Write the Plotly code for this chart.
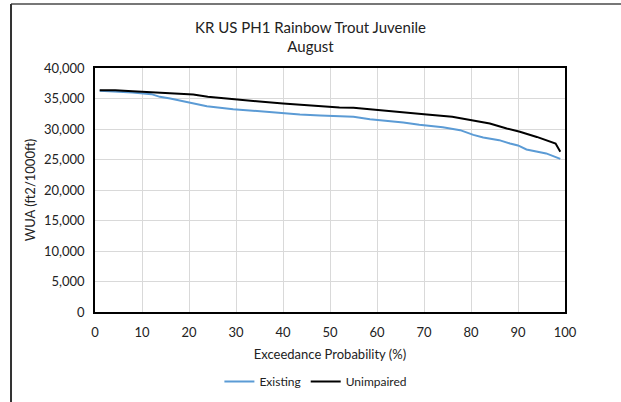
import plotly.graph_objects as go

# data
existing_x = [1, 4.6, 8, 12, 13.8, 16, 19.5, 23.8, 29.4, 35, 39.4, 43.6, 47.9, 51.4, 55,
              58.5, 62, 65.6, 69, 74, 77.7, 80.5, 82.6, 86, 88.3, 90, 91.8, 96, 99]
existing_y = [36260, 36150, 35980, 35710, 35270, 35000, 34400, 33740, 33250, 32870, 32650,
              32380, 32210, 32100, 32000, 31610, 31390, 31070, 30680, 30300, 29810, 29040,
              28610, 28170, 27620, 27300, 26640, 26000, 25110]

unimpaired_x = [1, 4.3, 8, 12.4, 16, 20.9, 24, 29.4, 31.6, 35, 40, 43.6, 46.5, 52, 55, 60,
                67, 70.6, 76, 79.8, 84, 87.6, 90.4, 94, 96, 98, 99]
unimpaired_y = [36366, 36366, 36200, 36040, 35930, 35650, 35270, 34840, 34780, 34500, 34180,
                33960, 33900, 33520, 33470, 33090, 32650, 32380, 32000, 31450, 30900, 30080,
                29540, 28700, 28170, 27620, 26260]

x_ticks = list(range(0, 101, 10))
y_ticks = list(range(0, 40001, 5000))

font = "Lato, 'Open Sans', sans-serif"

fig = go.Figure()
fig.add_trace(go.Scatter(x=existing_x, y=existing_y, name="Existing", mode="lines",
                         line=dict(color="#5b9bd5", width=2)))
fig.add_trace(go.Scatter(x=unimpaired_x, y=unimpaired_y, name="Unimpaired", mode="lines",
                         line=dict(color="black", width=2)))

fig.update_layout(
    width=621, height=402,
    margin=dict(l=95, r=56, t=68, b=90, autoexpand=False),
    paper_bgcolor="white", plot_bgcolor="white",
    font=dict(family=font, size=13, color="#222222"),
    title=dict(text="KR US PH1 Rainbow Trout Juvenile<br>August", x=0.5, xanchor="center",
               y=0.918, yanchor="top", font=dict(size=15), automargin=False),
    legend=dict(orientation="h", x=0.47, xanchor="center", y=-0.285, yanchor="middle",
                font=dict(size=12), itemwidth=30),
    showlegend=True,
)
fig.update_xaxes(range=[0, 100], tickvals=x_ticks, showgrid=True, gridcolor="#d9d9d9",
                 showline=True, linecolor="black", linewidth=1.5, mirror=True,
                 ticks="", zeroline=False, automargin=False, ticklabelstandoff=8,
                 title=dict(text="Exceedance Probability (%)", standoff=11, font=dict(size=13)))
fig.update_yaxes(range=[0, 40000], tickvals=y_ticks, tickformat=",", showgrid=True,
                 gridcolor="#d9d9d9", showline=True, linecolor="black", linewidth=1.5,
                 mirror=True, ticks="", zeroline=False, automargin=False, ticklabelstandoff=6,
                 title=dict(text="WUA (ft2/1000ft)", standoff=5, font=dict(size=13)))

# outer frame of the chart (clipped at right and bottom in the reference)
fig.add_shape(type="line", xref="paper", yref="paper", x0=-0.1787, y0=1.2623, x1=1.2, y1=1.2623,
              line=dict(color="#777777", width=2), layer="above")
fig.add_shape(type="line", xref="paper", yref="paper", x0=-0.1787, y0=1.2623, x1=-0.1787, y1=-0.4,
              line=dict(color="#333333", width=2), layer="above")

# drop the browser's default body margin so the figure sits at the page origin
fig.write_html("out.html", config={"displayModeBar": False},
               post_script="document.body.style.margin='0';"
                           "document.body.style.overflow='hidden';"
                           "window.scrollTo(0, 0);")
